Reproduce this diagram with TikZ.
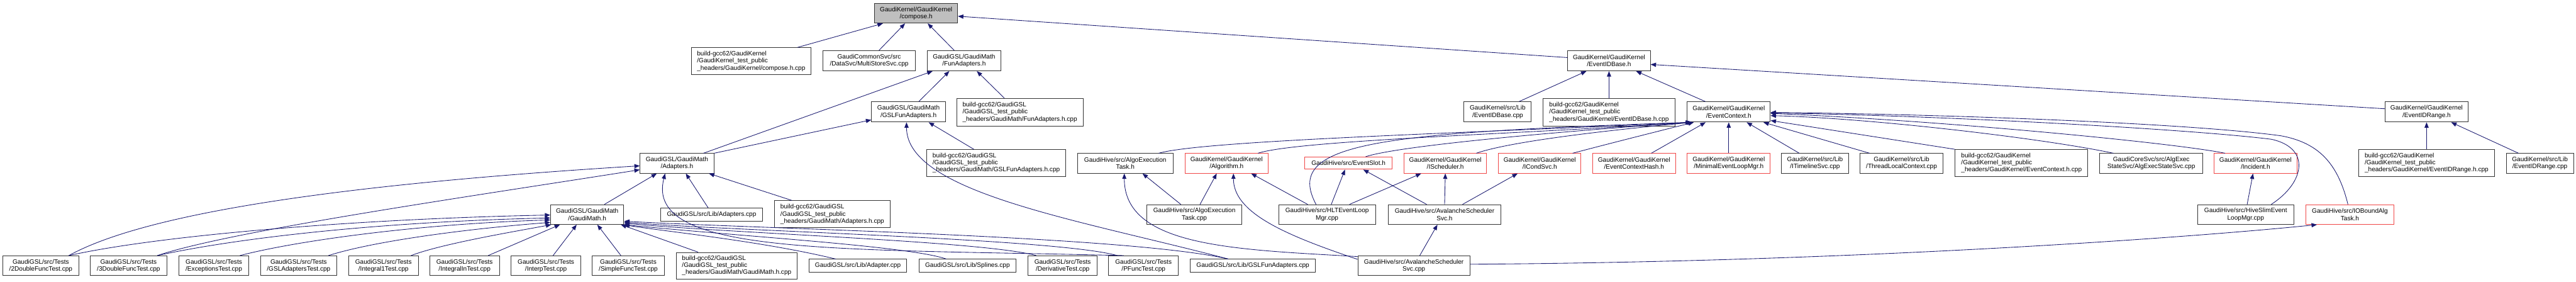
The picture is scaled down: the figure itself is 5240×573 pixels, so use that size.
\documentclass[tikz,border=0pt]{standalone}
\usepackage{fontspec}
\setmainfont{Liberation Sans}
\usetikzlibrary{arrows.meta,calc}
\definecolor{edgec}{RGB}{25,25,112}
\definecolor{redb}{RGB}{240,70,70}
\definecolor{greyf}{RGB}{191,191,191}
\newcommand\dfont{\fontsize{12.9pt}{14.3pt}\selectfont}
\newcommand\bx[7]{\node[#1,minimum width={#5pt-#3pt},minimum height={#6pt-#4pt}] (#2) at ({(#3+#5)/2},{(#4+#6)/2}) {#7};}
\tikzset{
 box/.style={draw=black!80, line width=1.2pt, fill=white, inner sep=0pt, align=center, font=\dfont},
 lbox/.style={box, align=left},
 rbox/.style={box, draw=redb},
 gbox/.style={box, fill=greyf},
 lnk/.style={draw=edgec, line width=1.1pt, -{Triangle[length=11pt,width=8.5pt]}},
}
\begin{document}
\begin{tikzpicture}[x=1pt,y=-1pt]
\useasboundingbox (0,0) rectangle (5240,573);
\fill[white] (0,0) rectangle (5240,573);
% row 1
\bx{gbox}{comp}{1779}{7}{1948}{47}{GaudiKernel/GaudiKernel\\/compose.h}
% row 2
\bx{lbox}{cphc}{1406}{97}{1650}{152}{build-gcc62/GaudiKernel\\/GaudiKernel\_test\_public\\\_headers/GaudiKernel/compose.h.cpp}
\bx{box}{mss}{1674}{103}{1862}{144}{GaudiCommonSvc/src\\/DataSvc/MultiStoreSvc.cpp}
\bx{box}{fa}{1886}{103}{2036}{144}{GaudiGSL/GaudiMath\\/FunAdapters.h}
\bx{box}{eib}{3189}{103}{3357}{144}{GaudiKernel/GaudiKernel\\/EventIDBase.h}
% row 3
\bx{box}{gfa}{1773}{207}{1923}{248}{GaudiGSL/GaudiMath\\/GSLFunAdapters.h}
\bx{lbox}{fahc}{1946}{200}{2203}{256}{build-gcc62/GaudiGSL\\/GaudiGSL\_test\_public\\\_headers/GaudiMath/FunAdapters.h.cpp}
\bx{box}{eibc}{2978}{207}{3115}{248}{GaudiKernel/src/Lib\\/EventIDBase.cpp}
\bx{lbox}{eibhc}{3139}{200}{3407}{256}{build-gcc62/GaudiKernel\\/GaudiKernel\_test\_public\\\_headers/GaudiKernel/EventIDBase.h.cpp}
\bx{box}{ec}{3432}{207}{3601}{248}{GaudiKernel/GaudiKernel\\/EventContext.h}
\bx{box}{eir}{4852}{207}{5020}{248}{GaudiKernel/GaudiKernel\\/EventIDRange.h}
% row 4
\bx{box}{ad}{1302}{312}{1452}{352}{GaudiGSL/GaudiMath\\/Adapters.h}
\bx{lbox}{gfahc}{1885}{304}{2168}{359}{build-gcc62/GaudiGSL\\/GaudiGSL\_test\_public\\\_headers/GaudiMath/GSLFunAdapters.h.cpp}
\bx{box}{aeth}{2192}{312}{2386}{352}{GaudiHive/src/AlgoExecution\\Task.h}
\bx{rbox}{alg}{2411}{312}{2579}{352}{GaudiKernel/GaudiKernel\\/Algorithm.h}
\bx{rbox}{es}{2654}{319}{2832}{344}{GaudiHive/src/EventSlot.h}
\bx{rbox}{isch}{2856}{312}{3024}{352}{GaudiKernel/GaudiKernel\\/IScheduler.h}
\bx{rbox}{icond}{3048}{312}{3216}{352}{GaudiKernel/GaudiKernel\\/ICondSvc.h}
\bx{rbox}{ech}{3240}{312}{3408}{352}{GaudiKernel/GaudiKernel\\/EventContextHash.h}
\bx{rbox}{mel}{3432}{312}{3601}{352}{GaudiKernel/GaudiKernel\\/MinimalEventLoopMgr.h}
\bx{box}{itl}{3624}{312}{3760}{352}{GaudiKernel/src/Lib\\/ITimelineSvc.cpp}
\bx{box}{tlc}{3784}{312}{3952}{352}{GaudiKernel/src/Lib\\/ThreadLocalContext.cpp}
\bx{lbox}{echc}{3977}{304}{4247}{359}{build-gcc62/GaudiKernel\\/GaudiKernel\_test\_public\\\_headers/GaudiKernel/EventContext.h.cpp}
\bx{box}{aes}{4271}{312}{4481}{352}{GaudiCoreSvc/src/AlgExec\\StateSvc/AlgExecStateSvc.cpp}
\bx{rbox}{inc}{4504}{312}{4672}{352}{GaudiKernel/GaudiKernel\\/Incident.h}
\bx{lbox}{eirhc}{4798}{304}{5074}{359}{build-gcc62/GaudiKernel\\/GaudiKernel\_test\_public\\\_headers/GaudiKernel/EventIDRange.h.cpp}
\bx{box}{eirc}{5098}{312}{5235}{352}{GaudiKernel/src/Lib\\/EventIDRange.cpp}
% row 5
\bx{box}{gm}{1120}{416}{1269}{456}{GaudiGSL/GaudiMath\\/GaudiMath.h}
\bx{box}{adc}{1344}{423}{1551}{449}{GaudiGSL/src/Lib/Adapters.cpp}
\bx{lbox}{adhc}{1575}{408}{1811}{463}{build-gcc62/GaudiGSL\\/GaudiGSL\_test\_public\\\_headers/GaudiMath/Adapters.h.cpp}
\bx{box}{aetc}{2333}{416}{2526}{456}{GaudiHive/src/AlgoExecution\\Task.cpp}
\bx{box}{hlt}{2601}{416}{2798}{456}{GaudiHive/src/HLTEventLoop\\Mgr.cpp}
\bx{box}{ash}{2824}{416}{3053}{456}{GaudiHive/src/AvalancheScheduler\\Svc.h}
\bx{box}{hsl}{4470}{416}{4666}{456}{GaudiHive/src/HiveSlimEvent\\LoopMgr.cpp}
\bx{rbox}{iob}{4691}{416}{4869}{456}{GaudiHive/src/IOBoundAlg\\Task.h}
% row 6
\bx{box}{t2d}{6}{520}{160}{560}{GaudiGSL/src/Tests\\/2DoubleFuncTest.cpp}
\bx{box}{t3d}{184}{520}{339}{560}{GaudiGSL/src/Tests\\/3DoubleFuncTest.cpp}
\bx{box}{tex}{364}{520}{506}{560}{GaudiGSL/src/Tests\\/ExceptionsTest.cpp}
\bx{box}{tgsl}{530}{520}{685}{560}{GaudiGSL/src/Tests\\/GSLAdaptersTest.cpp}
\bx{box}{ti1}{709}{520}{851}{560}{GaudiGSL/src/Tests\\/Integral1Test.cpp}
\bx{box}{tin}{874}{520}{1016}{560}{GaudiGSL/src/Tests\\/IntegralInTest.cpp}
\bx{box}{tip}{1040}{520}{1181}{560}{GaudiGSL/src/Tests\\/InterpTest.cpp}
\bx{box}{tsf}{1205}{520}{1351}{560}{GaudiGSL/src/Tests\\/SimpleFuncTest.cpp}
\bx{lbox}{gmhc}{1376}{513}{1621}{567}{build-gcc62/GaudiGSL\\/GaudiGSL\_test\_public\\\_headers/GaudiMath/GaudiMath.h.cpp}
\bx{box}{adpc}{1646}{527}{1844}{553}{GaudiGSL/src/Lib/Adapter.cpp}
\bx{box}{spl}{1869}{527}{2067}{553}{GaudiGSL/src/Lib/Splines.cpp}
\bx{box}{tder}{2091}{520}{2232}{560}{GaudiGSL/src/Tests\\/DerivativeTest.cpp}
\bx{box}{tpf}{2255}{520}{2397}{560}{GaudiGSL/src/Tests\\/PFuncTest.cpp}
\bx{box}{gfac}{2421}{527}{2676}{553}{GaudiGSL/src/Lib/GSLFunAdapters.cpp}
\bx{box}{asc}{2762}{520}{2990}{560}{GaudiHive/src/AvalancheScheduler\\Svc.cpp}
% edges to compose.h
\draw[lnk] ($(cphc.north)+(94,0)$) -- ($(comp.south)+(-67.5,0)$);
\draw[lnk] ($(mss.north)+(20,0)$) -- ($(comp.south)+(-22.5,0)$);
\draw[lnk] ($(fa.north)+(-20,0)$) -- ($(comp.south)+(23.5,0)$);
\draw[lnk] ($(eib.west)+(0,-6.5)$) -- ($(comp.east)+(0,6)$);
% FunAdapters / GSLFunAdapters
\draw[lnk] ($(ad.north)+(54,0)$) -- ($(fa.south)+(-64,0)$);
\draw[lnk] (ad.north east) -- ($(gfa.south west)+(0,-5)$);
\draw[lnk] ($(gfa.north)+(21,0)$) -- ($(fa.south)+(-30,0)$);
\draw[lnk] ($(fahc.north)+(-31.5,0)$) -- ($(fa.south)+(26,0)$);
\draw[lnk] ($(gfahc.north)+(-45.5,0)$) -- ($(gfa.south)+(41,0)$);
\draw[lnk] ($(gfac.north)+(-50,0)$) .. controls (2198,447) and (1844,392) .. ($(gfa.south)+(-4,0)$);
% Adapters.h
\draw[lnk] ($(gm.north)+(35,0)$) -- ($(ad.south)+(-41,0)$);
\draw[lnk] ($(adc.north)+(-7,0)$) -- ($(ad.south)+(18,0)$);
\draw[lnk] ($(adhc.north)+(-82,0)$) -- ($(ad.south)+(65,0)$);
\draw[lnk] ($(t2d.north)+(57,0)$) .. controls (340,409) and (902,362) .. ($(ad.west)+(0,5)$);
\draw[lnk] ($(t3d.north)+(58.5,0)$) .. controls (470,469) and (952,400) .. ($(ad.west)+(0,13)$);
\draw[lnk] ($(tpf.north)+(-40,0)$) .. controls (1700,505) and (1310,520) .. ($(ad.south)+(-24,0)$);
% GaudiMath.h
\draw[lnk] ($(t2d.north)+(57,0)$) .. controls (320,479) and (720,445) .. ($(gm.west)+(0,1)$);
\draw[lnk] ($(t3d.north)+(58.5,0)$) .. controls (500,480) and (800,450) .. ($(gm.west)+(0,7)$);
\draw[lnk] ($(tex.north)+(53,0)$) .. controls (600,490) and (850,455) .. ($(gm.west)+(0,11)$);
\draw[lnk] ($(tgsl.north)+(60.5,0)$) .. controls (760,490) and (950,465) .. ($(gm.west)+(0,16)$);
\draw[lnk] ($(ti1.north)+(56,0)$) .. controls (900,495) and (1050,470) .. ($(gm.south west)+(2,0)$);
\draw[lnk] ($(tin.north)+(48,0)$) -- ($(gm.south)+(-55.5,0)$);
\draw[lnk] ($(tip.north)+(14.5,0)$) -- ($(gm.south)+(-21.5,0)$);
\draw[lnk] ($(tsf.north)+(-15,0)$) -- ($(gm.south)+(20.5,0)$);
\draw[lnk] ($(gmhc.north)+(-78.5,0)$) -- ($(gm.south)+(68.5,0)$);
\draw[lnk] ($(adpc.north)+(-45,0)$) .. controls (1550,490) and (1350,470) .. ($(gm.south east)+(-2,0)$);
\draw[lnk] ($(spl.north)+(-43,0)$) .. controls (1850,500) and (1500,480) .. (gm.south east);
\draw[lnk] ($(tder.north)+(-53.5,0)$) .. controls (2000,490) and (1500,475) .. ($(gm.south east)+(0,-3)$);
\draw[lnk] ($(tpf.north)+(-53,0)$) .. controls (2150,485) and (1500,470) .. ($(gm.south east)+(0,-5)$);
\draw[lnk] ($(gfac.north)+(-50,0)$) .. controls (2300,480) and (1550,465) .. ($(gm.south east)+(0,-7)$);
% Hive
\draw[lnk] ($(aetc.north)+(-27.5,0)$) -- ($(aeth.south)+(35,0)$);
\draw[lnk] ($(aetc.north)+(11.5,0)$) -- ($(alg.south)+(-20,0)$);
\draw[lnk] ($(asc.north west)+(0,2)$) .. controls (2512,507) and (2287,502) .. ($(aeth.south)+(-2,0)$);
\draw[lnk] ($(asc.west)+(0,-13)$) .. controls (2612,477) and (2509,432) .. ($(alg.south)+(14,0)$);
\draw[lnk] ($(hlt.north)+(-39.5,0)$) -- ($(alg.south)+(50,0)$);
\draw[lnk] ($(hlt.north)+(8.5,0)$) -- ($(es.south)+(-7,0)$);
\draw[lnk] ($(ash.north)+(-36.5,0)$) -- ($(es.south)+(30,0)$);
\draw[lnk] ($(hlt.north)+(45.5,0)$) -- ($(isch.south)+(-49,0)$);
\draw[lnk] (ash.north) -- (isch.south);
\draw[lnk] ($(ash.north)+(36.5,0)$) -- ($(icond.south)+(-45,0)$);
\draw[lnk] ($(asc.north)+(12,0)$) -- ($(ash.south)+(-14.5,0)$);
\draw[lnk] ($(asc.east)+(0,-3)$) .. controls (3790,532) and (4463,482) .. ($(iob.south)+(-67,0)$);
% EventContext.h
\draw[lnk] ($(aeth.north)+(68,0)$) .. controls (2450,285) and (3000,270) .. ($(ec.south west)+(8,0)$);
\draw[lnk] ($(alg.north)+(64,0)$) .. controls (2640,285) and (3100,272) .. ($(ec.south west)+(9,0)$);
\draw[lnk] ($(hlt.north)+(-22.5,0)$) .. controls (2610,290) and (2800,270) .. ($(ec.south west)+(10,0)$);
\draw[lnk] ($(es.north)+(35,0)$) .. controls (2850,295) and (3200,265) .. ($(ec.south west)+(11,0)$);
\draw[lnk] ($(isch.north)+(63,0)$) .. controls (3080,285) and (3300,262) .. ($(ec.south west)+(12,0)$);
\draw[lnk] ($(icond.north)+(67,0)$) .. controls (3280,290) and (3380,265) .. ($(ec.south west)+(14,0)$);
\draw[lnk] ($(ech.north)+(35,0)$) -- ($(ec.south)+(-47,0)$);
\draw[lnk] (mel.north) -- (ec.south);
\draw[lnk] ($(itl.north)+(-32,0)$) -- ($(ec.south)+(36.5,0)$);
\draw[lnk] ($(tlc.north)+(-65,0)$) -- ($(ec.south)+(70.5,0)$);
\draw[lnk] (echc.north west) -- ($(ec.east)+(0,17.5)$);
\draw[lnk] ($(aes.north)+(-77,0)$) .. controls (4150,280) and (3800,240) .. ($(ec.east)+(0,7.5)$);
\draw[lnk] ($(inc.north)+(-62,0)$) .. controls (4420,290) and (3950,245) .. ($(ec.east)+(0,3)$);
\draw[lnk] ($(hsl.north)+(52,0)$) .. controls (4690,370) and (4700,300) .. (4620,283) .. controls (4450,262) and (3950,235) .. ($(ec.east)+(0,2)$);
\draw[lnk] ($(iob.north)+(-4,0)$) .. controls (4755,330) and (4715,290) .. (4640,276) .. controls (4450,250) and (3950,232) .. ($(ec.east)+(0,1)$);
% EventIDBase / EventIDRange
\draw[lnk] ($(ec.north)+(-47.5,0)$) -- ($(eib.south)+(55,0)$);
\draw[lnk] ($(eibc.north)+(43.5,0)$) -- ($(eib.south)+(-46,0)$);
\draw[lnk] (eibhc.north) -- (eib.south);
\draw[lnk] ($(eir.west)+(0,-6.5)$) -- ($(eib.east)+(0,7.5)$);
\draw[lnk] (eirhc.north) -- (eir.south);
\draw[lnk] ($(eirc.north)+(-43.5,0)$) -- ($(eir.south)+(50,0)$);
\draw[lnk] ($(hsl.north)+(3,0)$) -- ($(inc.south)+(-5,0)$);
\end{tikzpicture}
\end{document}
